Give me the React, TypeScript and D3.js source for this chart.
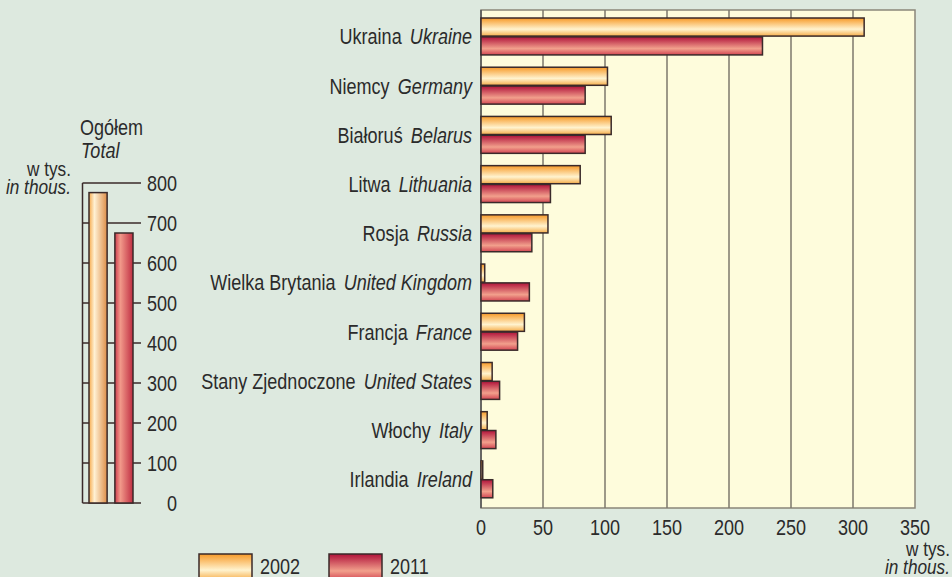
import React from "react";
import * as d3 from "d3";

// countries, top to bottom
const countriesPl = ["Ukraina", "Niemcy", "Białoruś", "Litwa", "Rosja", "Wielka Brytania", "Francja", "Stany Zjednoczone", "Włochy", "Irlandia"];
const countriesEn = ["Ukraine", "Germany", "Belarus", "Lithuania", "Russia", "United Kingdom", "France", "United States", "Italy", "Ireland"];
const values2002 = [309, 102, 105, 80, 54, 3, 35, 9, 5, 1.4];
const values2011 = [227, 84, 84, 56, 41, 39, 29.5, 15, 12, 9.5];
const years = ["2002", "2011"];
const totals = [776, 675];
const xTicks = [0, 50, 100, 150, 200, 250, 300, 350];
const totalTicks = [0, 100, 200, 300, 400, 500, 600, 700, 800];

const W = 952;
const H = 577;
const FONT = "'Liberation Sans', Arial, sans-serif";
const TEXT = "#2b2b2b";
const STROKE = "#3a2a2a";
const SQUEEZE = 0.82; // fake a condensed face

// text squeezed horizontally around its anchor point
const T = ({ x, y, anchor = "start", size = 22, italic = false, dy, children }: any) => (
  <text
    transform={`translate(${x},${y}) scale(${SQUEEZE},1)`}
    dy={dy}
    textAnchor={anchor}
    fontSize={size}
    fontStyle={italic ? "italic" : "normal"}
    fill={TEXT}
  >
    {children}
  </text>
);

const App = () => {
  const x = d3.scaleLinear().domain([0, 350]).range([481, 915]);
  const y0 = d3
    .scaleBand<string>()
    .domain(countriesEn)
    .range([10, 508])
    .paddingInner(0.25)
    .paddingOuter(0.185)
    .align(0.44);
  const y1 = d3.scaleBand<string>().domain(years).range([0, y0.bandwidth()]).paddingInner(0.04);

  const yT = d3.scaleLinear().domain([0, 800]).range([503, 183]);
  const xT = d3.scaleBand<string>().domain(years).range([89, 133]).paddingInner(0.3);

  const rows = countriesEn.map((c, i) => ({ c, pl: countriesPl[i], vals: [values2002[i], values2011[i]] }));

  return (
    <svg width={W} height={H} style={{ position: "absolute", left: 0, top: 0, fontFamily: FONT }}>
      <defs>
        <linearGradient id="hOrange" x1="0" y1="0" x2="0" y2="1">
          <stop offset="0" stopColor="#f79a28" />
          <stop offset="0.62" stopColor="#fff3cf" />
          <stop offset="1" stopColor="#f6ad4a" />
        </linearGradient>
        <linearGradient id="hRed" x1="0" y1="0" x2="0" y2="1">
          <stop offset="0" stopColor="#b0123a" />
          <stop offset="0.65" stopColor="#f2a08c" />
          <stop offset="1" stopColor="#d24552" />
        </linearGradient>
        <linearGradient id="vOrange" x1="0" y1="0" x2="1" y2="0">
          <stop offset="0" stopColor="#f6aa4c" />
          <stop offset="0.3" stopColor="#fff1d4" />
          <stop offset="1" stopColor="#de8e48" />
        </linearGradient>
        <linearGradient id="vRed" x1="0" y1="0" x2="1" y2="0">
          <stop offset="0" stopColor="#cf3c4e" />
          <stop offset="0.3" stopColor="#f29a8a" />
          <stop offset="1" stopColor="#c02e42" />
        </linearGradient>
      </defs>
      <rect width={W} height={H} fill="#dde9df" />

      {/* main plot */}
      <rect x={x(0)} y={10} width={x(350) - x(0)} height={498} fill="#fefcdc" stroke="#8a867a" strokeWidth={1.5} />
      {xTicks.slice(1, -1).map((t) => (
        <line key={t} x1={x(t)} x2={x(t)} y1={10} y2={508} stroke="#7c786c" strokeWidth={1.5} />
      ))}
      <line x1={x(0)} x2={x(0)} y1={10} y2={508} stroke="#555" strokeWidth={1.5} />

      {rows.map((r) => (
        <g key={r.c} transform={`translate(0,${y0(r.c)})`}>
          {years.map((yr, j) => (
            <rect
              key={yr}
              x={x(0)}
              y={y1(yr)}
              width={x(r.vals[j]) - x(0)}
              height={y1.bandwidth()}
              fill={j === 0 ? "url(#hOrange)" : "url(#hRed)"}
              stroke={STROKE}
              strokeWidth={1.5}
            />
          ))}
          <T x={472} y={y0.bandwidth() / 2} dy="0.36em" anchor="end">
            {r.pl}
            <tspan dx={10} fontStyle="italic">{r.c}</tspan>
          </T>
        </g>
      ))}

      {xTicks.map((t) => (
        <T key={t} x={x(t)} y={535} anchor="middle">{t}</T>
      ))}
      <T x={950} y={556} anchor="end" size={21}>w tys.</T>
      <T x={950} y={574} anchor="end" size={21} italic>in thous.</T>

      {/* totals */}
      <T x={80} y={135}>Ogółem</T>
      <T x={81} y={158} italic>Total</T>
      <T x={71} y={176} anchor="end" size={21}>w tys.</T>
      <T x={71} y={194} anchor="end" size={21} italic>in thous.</T>
      <line x1={82.5} x2={82.5} y1={yT(800)} y2={yT(0)} stroke={STROKE} strokeWidth={1.5} />
      {totalTicks.map((t) => (
        <g key={t}>
          <line x1={82.5} x2={141} y1={yT(t)} y2={yT(t)} stroke={STROKE} strokeWidth={1.5} />
          <T x={177} y={yT(t)} dy="0.36em" anchor="end">{t}</T>
        </g>
      ))}
      {years.map((yr, j) => (
        <rect
          key={yr}
          x={xT(yr)}
          y={yT(totals[j])}
          width={xT.bandwidth()}
          height={yT(0) - yT(totals[j])}
          fill={j === 0 ? "url(#vOrange)" : "url(#vRed)"}
          stroke={STROKE}
          strokeWidth={1.5}
        />
      ))}

      {/* legend */}
      {years.map((yr, j) => (
        <g key={yr} transform={`translate(${199 + j * 130},554)`}>
          <rect width={53} height={26} fill={j === 0 ? "url(#hOrange)" : "url(#hRed)"} stroke={STROKE} strokeWidth={1.5} />
          <T x={61} y={20}>{yr}</T>
        </g>
      ))}
    </svg>
  );
};

export default App;
